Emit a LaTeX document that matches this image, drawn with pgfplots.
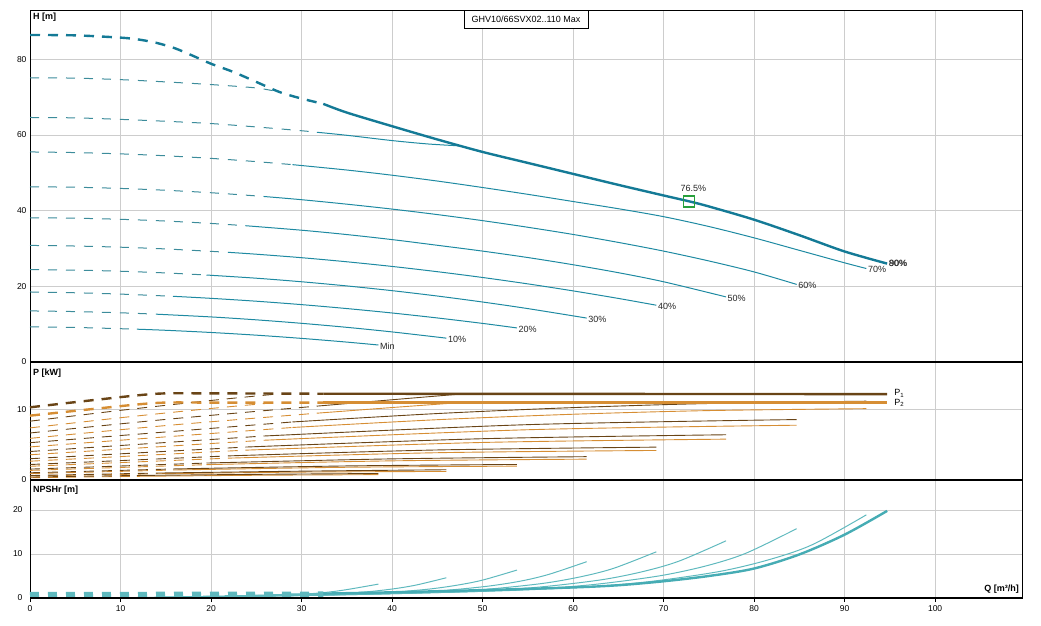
\documentclass[border=0pt]{standalone}
\usepackage{fontspec}
\setmainfont{Liberation Sans}
\usepackage{pgfplots}
\pgfplotsset{compat=1.18}
\definecolor{hc}{RGB}{30,138,162}
\definecolor{hcd}{RGB}{60,140,155}
\definecolor{hcm}{RGB}{20,122,150}
\definecolor{pa}{RGB}{105,68,22}
\definecolor{pb}{RGB}{214,142,52}
\definecolor{nc}{RGB}{95,185,190}
\definecolor{ncm}{RGB}{70,172,180}
\definecolor{gridc}{RGB}{205,205,205}
\definecolor{mk}{RGB}{40,160,60}
\tikzset{lab/.style={anchor=west, inner sep=1.5pt, font=\fontsize{9}{10}\selectfont, text=black!85}}
\pgfplotsset{
  panel/.style={scale only axis, width=992pt, xmin=0, xmax=109.6,
    xtick={0,10,...,100}, grid=major,
    major grid style={gridc, line width=0.8pt},
    axis line style={black, line width=0.8pt},
    ytick style={draw=none}, clip=false,
    ticklabel style={font=\fontsize{8.5}{10}\selectfont},
    /pgf/number format/assume math mode=true},
  hs/.style={hc, line width=1pt, line join=round, no marks, smooth},
  hd/.style={hcd, line width=1pt, dash pattern=on 9pt off 9pt, no marks, smooth},
  hm/.style={hcm, line width=2.4pt, line join=round, no marks, smooth},
  hmd/.style={hcm, line width=2.4pt, dash pattern=on 10pt off 8pt, no marks, smooth},
  ps/.style={pa, line width=0.9pt, no marks, smooth},
  pd/.style={pa, line width=0.9pt, dash pattern=on 10pt off 8pt, no marks, smooth},
  qs/.style={pb, line width=0.9pt, no marks, smooth},
  qd/.style={pb, line width=0.9pt, dash pattern=on 10pt off 8pt, no marks, smooth},
  ns/.style={nc, line width=1pt, no marks, smooth},
  nm/.style={ncm, line width=2.4pt, no marks, smooth},
}
\begin{document}
\begin{tikzpicture}
\path[use as bounding box] (0,0) rectangle (1041pt,625pt);

% ---------------- H panel ----------------
\begin{axis}[panel, at={(30pt,263pt)}, anchor=south west, height=352pt,
  ymin=0, ymax=93.0, ytick={0,20,40,60,80}, xticklabels={}, xtick style={draw=none}]
% Min
\addplot[hd] coordinates {(0,9.3)(5,9.13)(11.8,8.67)};
\addplot[hs] coordinates {(11.8,8.67)(15,8.38)(20,7.80)(25,7.09)(30,6.24)(35,5.26)(38.5,4.49)};
% 10%
\addplot[hd] coordinates {(0,13.5)(5,13.32)(10,13.0)(13.9,12.64)};
\addplot[hs] coordinates {(13.9,12.64)(20,11.91)(25,11.14)(30,10.22)(35,9.16)(40,7.95)(46,6.30)};
% 20%
\addplot[hd] coordinates {(0,18.5)(5,18.29)(10,17.94)(15.8,17.36)};
\addplot[hs] coordinates {(15.8,17.36)(20,16.82)(25,16.06)(30,15.16)(35,14.12)(40,12.95)(45,11.64)(50,10.20)(53.8,9.0)};
% 30%
\addplot[hd] coordinates {(0,24.4)(5,24.27)(10,23.98)(15,23.53)(19.5,22.98)};
\addplot[hs] coordinates {(19.5,22.98)(25,22.14)(30,21.2)(35,20.1)(40,18.85)(45,17.43)(50,15.85)(55,14.11)(61.5,11.61)};
% 40%
\addplot[hd] coordinates {(0,30.8)(5,30.64)(10,30.33)(15,29.87)(21.9,28.98)};
\addplot[hs] coordinates {(21.9,28.98)(25,28.48)(30,27.56)(35,26.48)(40,25.25)(45,23.86)(50,22.33)(55,20.64)(60,18.79)(65,16.8)(69.2,15.0)};
% 50%
\addplot[hd] coordinates {(0,38.1)(5,37.99)(10,37.7)(15,37.24)(20,36.61)(23.8,36.01)};
\addplot[hs] coordinates {(23.8,36.01)(30,34.82)(35,33.67)(40,32.34)(45,30.84)(50,29.3)(55,27.6)(60,25.7)(65,23.6)(70,21.2)(76.9,17.2)};
% 60%
\addplot[hd] coordinates {(0,46.3)(5,46.17)(10,45.86)(15,45.37)(20,44.72)(25.8,43.74)};
\addplot[hs] coordinates {(25.8,43.74)(30,42.88)(35,41.7)(40,40.4)(45,38.95)(50,37.35)(55,35.6)(60,33.7)(65,31.6)(70,29.3)(75,26.7)(80,23.8)(84.7,20.5)};
% 70%
\addplot[hd] coordinates {(0,55.5)(5,55.33)(10,54.99)(15,54.48)(20,53.8)(25,52.94)(29,52.14)};
\addplot[hs] coordinates {(29,52.14)(35,50.72)(40,49.35)(45,47.81)(50,46.1)(55,44.3)(60,42.4)(65,40.5)(70,38.4)(75,35.8)(80,32.8)(85,29.5)(90,26.2)(92.4,24.7)};
% 80%
\addplot[hd] coordinates {(0,64.6)(5,64.5)(10,64.1)(15,63.6)(20,63.0)(25,62.1)(30,61.1)(31.7,60.7)};
\addplot[hs] coordinates {(31.7,60.7)(35,59.9)(40,58.5)(44,57.6)(47.5,57.1)};
% 90%
\addplot[hd] coordinates {(0,75.1)(5,75.0)(10,74.6)(15,74.0)(20,73.3)(25,72.4)(27.6,71.3)};
% Max
\addplot[hmd] coordinates {(0,86.4)(5,86.3)(10,85.7)(12,85.2)(14,84.3)(16,82.9)(18,80.9)(20,78.8)(22.5,76.6)(25,74.0)(27.6,71.3)(30,69.6)(32.4,68.2)};
\addplot[hm] coordinates {(32.4,68.2)(35,65.9)(40,62.3)(45,58.8)(50,55.5)(55,52.6)(60,49.7)(65,46.8)(70,44.0)(72.9,42.4)(75,41.1)(80,37.6)(85,33.5)(90,29.2)(94.7,26.0)};
% duty point
\addplot[only marks, mark=square, mark size=5.5pt, mark options={mk, line width=1.4pt}] coordinates {(72.8,42.4)};
\node[anchor=south, inner sep=0pt, font=\fontsize{9}{10}\selectfont, text=black!85] at (axis cs:73.3,45.0) {76.5\%};
% curve labels
\node[lab, yshift=-1.5pt] at (axis cs:38.5,4.49) {Min};
\node[lab, yshift=-1.5pt] at (axis cs:46,6.30) {10\%};
\node[lab, yshift=-1.5pt] at (axis cs:53.8,9.0) {20\%};
\node[lab, yshift=-1.5pt] at (axis cs:61.5,11.61) {30\%};
\node[lab, yshift=-1.5pt] at (axis cs:69.2,15.0) {40\%};
\node[lab, yshift=-1.5pt] at (axis cs:76.9,17.2) {50\%};
\node[lab, yshift=-1pt] at (axis cs:84.7,20.5) {60\%};
\node[lab, yshift=-1pt] at (axis cs:92.4,24.7) {70\%};
\node[lab] at (axis cs:94.7,26.0) {80\%};
\node[lab, xshift=0.4pt] at (axis cs:94.7,26.0) {90\%};
% titles
\node[anchor=north west, inner sep=0pt, font=\bfseries\fontsize{9}{10}\selectfont] at (rel axis cs:0,1) [xshift=3pt, yshift=-3pt] {H [m]};
\node[draw=black, fill=white, line width=0.8pt, anchor=north, minimum width=124pt, minimum height=18pt, inner sep=0pt, font=\fontsize{9}{10}\selectfont] at (rel axis cs:0.5,1) {GHV10/66SVX02..110 Max};
\draw[black, line width=2.6pt] (rel axis cs:0,0) -- (rel axis cs:1,0);
\end{axis}

% ---------------- P panel ----------------
\begin{axis}[panel, at={(30pt,145pt)}, anchor=south west, height=118pt,
  ymin=0, ymax=16.69, ytick={0,10}, xticklabels={}, xtick style={draw=none}]
% Min
\addplot[qd] coordinates {(0,0.32)(11.8,0.52)};
\addplot[qs] coordinates {(11.8,0.52)(25,0.67)(38.5,0.76)};
\addplot[pd] coordinates {(0,0.42)(11.8,0.64)};
\addplot[ps] coordinates {(11.8,0.64)(25,0.8)(38.5,0.92)};
% 10%
\addplot[qd] coordinates {(0,0.56)(13.9,0.88)};
\addplot[qs] coordinates {(13.9,0.88)(30,1.12)(46,1.21)};
\addplot[pd] coordinates {(0,0.63)(13.9,0.98)};
\addplot[ps] coordinates {(13.9,0.98)(30,1.25)(46,1.45)};
% 20%
\addplot[qd] coordinates {(0,0.9)(15.8,1.41)};
\addplot[qs] coordinates {(15.8,1.41)(35,1.8)(53.8,1.96)};
\addplot[pd] coordinates {(0,1.02)(15.8,1.56)};
\addplot[ps] coordinates {(15.8,1.56)(35,1.99)(53.8,2.2)};
% 30%
\addplot[qd] coordinates {(0,1.36)(19.5,2.17)};
\addplot[qs] coordinates {(19.5,2.17)(40,2.71)(61.5,2.95)};
\addplot[pd] coordinates {(0,1.54)(19.5,2.4)};
\addplot[ps] coordinates {(19.5,2.4)(40,2.99)(61.5,3.3)};
% 40%
\addplot[qd] coordinates {(0,1.94)(21.9,3.09)};
\addplot[qs] coordinates {(21.9,3.09)(45,3.86)(69.2,4.18)};
\addplot[pd] coordinates {(0,2.19)(21.9,3.41)};
\addplot[ps] coordinates {(21.9,3.41)(45,4.25)(69.2,4.65)};
% 50%
\addplot[qd] coordinates {(0,2.66)(23.8,4.22)};
\addplot[qs] coordinates {(23.8,4.22)(50,5.31)(76.9,5.78)};
\addplot[pd] coordinates {(0,3.01)(23.8,4.66)};
\addplot[ps] coordinates {(23.8,4.66)(50,5.84)(76.9,6.4)};
% 60%
\addplot[qd] coordinates {(0,3.57)(25.8,5.62)};
\addplot[qs] coordinates {(25.8,5.62)(55,7.11)(84.7,7.75)};
\addplot[pd] coordinates {(0,4.03)(25.8,6.22)};
\addplot[ps] coordinates {(25.8,6.22)(55,7.83)(84.7,8.55)};
% 70%
\addplot[qd] coordinates {(0,4.68)(29,7.43)};
\addplot[qs] coordinates {(29,7.43)(45,8.53)(60,9.3)(75,9.82)(92.4,10.09)};
\addplot[pd] coordinates {(0,5.28)(29,8.21)};
\addplot[ps] coordinates {(29,8.21)(45,9.4)(60,10.24)(75,10.82)(92.4,11.15)};
% 80%
\addplot[qd] coordinates {(0,5.89)(15,7.7)(31.7,9.45)};
\addplot[qs] coordinates {(31.7,9.45)(40,10.25)(47.5,10.95)};
\addplot[pd] coordinates {(0,6.65)(15,8.57)(31.7,10.45)};
\addplot[ps] coordinates {(31.7,10.45)(40,11.35)(47.5,12.15)};
% 90%
\addplot[qd] coordinates {(0,7.37)(10,8.81)(20,10.12)(27.6,11.0)};
\addplot[pd] coordinates {(0,8.32)(10,9.85)(20,11.25)(27.6,12.2)};
% Max
\addplot[qd, line width=2.4pt] coordinates {(0,9.1)(7,10.05)(14,10.9)(20,10.95)(32.4,10.95)};
\addplot[qs, line width=2.4pt] coordinates {(32.4,10.95)(94.7,10.95)};
\addplot[pd, line width=2.4pt] coordinates {(0,10.28)(7,11.3)(14,12.2)(20,12.25)(32.4,12.2)};
\addplot[ps, line width=2.4pt] coordinates {(32.4,12.2)(94.7,12.15)};
\node[anchor=west, inner sep=0pt, font=\fontsize{9}{10}\selectfont] at (axis cs:94.7,12.25) [xshift=7pt] {P\textsubscript{1}};
\node[anchor=west, inner sep=0pt, font=\fontsize{9}{10}\selectfont] at (axis cs:94.7,10.9) [xshift=7pt] {P\textsubscript{2}};
\node[anchor=north west, inner sep=0pt, font=\bfseries\fontsize{9}{10}\selectfont] at (rel axis cs:0,1) [xshift=3pt, yshift=-7pt] {P [kW]};
\draw[black, line width=2.6pt] (rel axis cs:0,0) -- (rel axis cs:1,0);
\end{axis}

% ---------------- NPSH panel ----------------
\begin{axis}[panel, at={(30pt,27pt)}, anchor=south west, height=118pt,
  ymin=0, ymax=26.82, ytick={0,10,20},
  xtick style={black, line width=0.8pt}, tick align=outside, xtick pos=lower, major tick length=4pt]
\addplot[nc, line width=6pt, dash pattern=on 9pt off 9pt, no marks] coordinates {(0,0.7)(32.4,0.8)};
\addplot[ns] coordinates {(11.8,0.155)(19.7,0.237)(24.6,0.394)(27.9,0.612)(31.2,1.007)(33.5,1.466)(35.4,2.043)(38.5,3.16)};
\addplot[ns] coordinates {(14.2,0.225)(23.7,0.343)(29.6,0.571)(33.6,0.888)(37.5,1.46)(40.3,2.125)(42.7,2.962)(46,4.6)};
\addplot[ns] coordinates {(16.7,0.309)(27.8,0.472)(34.7,0.785)(39.4,1.22)(44.0,2.007)(47.2,2.92)(50.0,4.07)(53.8,6.35)};
\addplot[ns] coordinates {(19.1,0.406)(31.9,0.62)(39.8,1.03)(45.1,1.6)(50.4,2.64)(54.2,3.84)(57.3,5.36)(61.5,8.25)};
\addplot[ns] coordinates {(21.5,0.513)(35.8,0.783)(44.8,1.3)(50.7,2.03)(56.7,3.33)(60.9,4.85)(64.5,6.76)(69.2,10.5)};
\addplot[ns] coordinates {(23.9,0.635)(39.8,0.97)(49.8,1.61)(56.4,2.51)(63.1,4.13)(67.7,6.0)(71.7,8.38)(76.9,13.0)};
\addplot[ns] coordinates {(26.4,0.772)(43.9,1.18)(54.9,1.96)(62.2,3.05)(69.5,5.02)(74.7,7.3)(79.1,10.18)(84.7,15.75)};
\addplot[ns] coordinates {(28.8,0.924)(48.1,1.41)(60.1,2.35)(68.1,3.65)(76.1,6.0)(81.7,8.74)(86.5,12.18)(92.4,18.9)};
\addplot[ns] coordinates {(31.7,1.0)(40,1.25)(47.5,1.7)};
\addplot[nm] coordinates {(32.4,1.0)(40,1.3)(50,1.8)(60,2.4)(65,2.9)(70,3.8)(75,5.0)(80,6.7)(85,9.9)(90,14.4)(94.7,19.8)};
\node[anchor=north west, inner sep=0pt, font=\bfseries\fontsize{9}{10}\selectfont] at (rel axis cs:0,1) [xshift=3pt, yshift=-6pt] {NPSHr [m]};
\node[anchor=south east, inner sep=0pt, font=\bfseries\fontsize{9}{10}\selectfont] at (rel axis cs:1,0) [xshift=-3pt, yshift=4pt] {Q [m³/h]};
\draw[black, line width=2.6pt] (rel axis cs:0,1) -- (rel axis cs:1,1);
\draw[black, line width=2pt] (rel axis cs:0,0) -- (rel axis cs:1,0);
\end{axis}
\end{tikzpicture}
\end{document}
